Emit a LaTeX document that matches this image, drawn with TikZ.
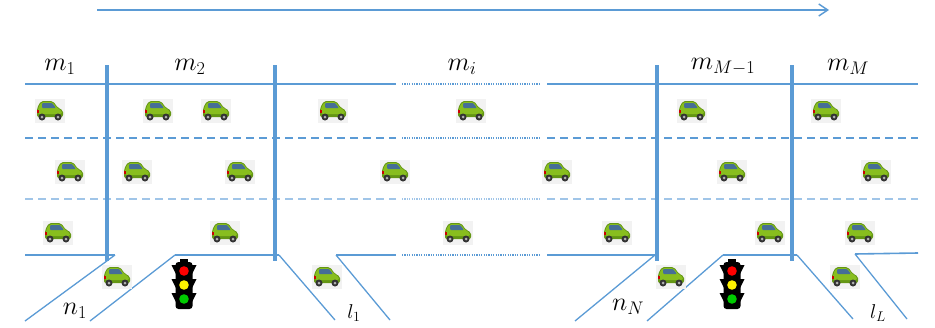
\documentclass[tikz,border=0pt]{standalone}
\usepackage{fix-cm}
\usetikzlibrary{arrows.meta}
\definecolor{road}{RGB}{91,155,213}
\definecolor{roadlight}{RGB}{160,197,232}
\definecolor{cargreen}{RGB}{136,190,30}
\definecolor{cardark}{RGB}{100,150,20}
\definecolor{carglass}{RGB}{70,110,150}
\definecolor{carbg}{RGB}{242,242,242}
\tikzset{
  roadline/.style={draw=road, line width=1.6pt},
  lanedash/.style={draw=road, line width=2pt, dash pattern=on 8pt off 5pt},
  lanedashlight/.style={draw=roadlight, line width=2pt, dash pattern=on 8pt off 5pt},
  gapdots/.style={draw=road, line width=1.6pt, dash pattern=on 1.2pt off 1.2pt},
  bar/.style={draw=road, line width=3.5pt},
  ramp/.style={draw=road, line width=1.3pt},
  biglabel/.style={font=\fontsize{26}{30}\selectfont, inner sep=0pt},
  smalllabel/.style={font=\fontsize{20}{24}\selectfont, inner sep=0pt},
  car/.pic={
    \fill[carbg] (-15,-12) rectangle (15,12);
    \fill[cardark, rounded corners=2] (-13,6) -- (-13,-3) -- (-9,-10) -- (3,-10) -- (8,-3) -- (13,-1) -- (13,6) -- cycle;
    \fill[cargreen, rounded corners=2] (-12,3) -- (-12,-3) -- (-8.5,-9) -- (2.5,-9) -- (7.5,-2.5) -- (12,-0.5) -- (12,3) -- cycle;
    \fill[carglass, rounded corners=1] (-8,-8) -- (2,-8) -- (6,-3) -- (-8,-3) -- cycle;
    \fill[red!80!black] (-13,-1) rectangle (-11.5,2);
    \fill[black!80] (-8,6) circle (3.5) (8,6) circle (3.5);
    \fill[gray!60] (-8,6) circle (1.5) (8,6) circle (1.5);
  },
  signal/.pic={
    \fill[black] (-4,-26) rectangle (4,-22);
    \foreach \yy in {-14,0,14}{
      \fill[black] (-8,\yy-6) -- (-12.5,\yy-6) -- (-8,\yy+3) -- cycle;
      \fill[black] (8,\yy-6) -- (12.5,\yy-6) -- (8,\yy+3) -- cycle;
    }
    \fill[black, rounded corners=3] (-8.5,-23) rectangle (8.5,24);
    \fill[red] (0,-14) circle (4.8);
    \fill[yellow] (0,0) circle (4.8);
    \fill[green!80!black] (0,14) circle (4.8);
  }
}
\begin{document}
\begin{tikzpicture}[x=1pt, y=-1pt]
\useasboundingbox (0,0) rectangle (935,327);

% direction of traffic
\coordinate (dirA) at (97,10);
\coordinate (dirB) at (829,10);
\draw[draw=road, line width=1.6pt, -{Straight Barb[length=9pt, width=12pt, line width=1.4pt]}] (dirA) -- (dirB);

% upper road edge
\coordinate (topL) at (25,84);
\coordinate (topLm) at (396,84);
\coordinate (topGa) at (402,84);
\coordinate (topGb) at (540,84);
\coordinate (topRm) at (547,84);
\coordinate (topR) at (918,84);
\draw[roadline] (topL) -- (topLm);
\draw[gapdots] (topGa) -- (topGb);
\draw[roadline] (topRm) -- (topR);

% lane separators
\coordinate (d1L) at (25,138);
\coordinate (d1Lm) at (396,138);
\coordinate (d1Ga) at (402,138);
\coordinate (d1Gb) at (540,138);
\coordinate (d1Rm) at (547,138);
\coordinate (d1R) at (918,138);
\draw[lanedash] (d1L) -- (d1Lm);
\draw[gapdots] (d1Ga) -- (d1Gb);
\draw[lanedash] (d1Rm) -- (d1R);

\coordinate (d2L) at (25,199);
\coordinate (d2Lm) at (396,199);
\coordinate (d2Ga) at (402,199);
\coordinate (d2Gb) at (540,199);
\coordinate (d2Rm) at (547,199);
\coordinate (d2R) at (918,199);
\draw[lanedashlight] (d2L) -- (d2Lm);
\draw[gapdots, draw=roadlight] (d2Ga) -- (d2Gb);
\draw[lanedashlight] (d2Rm) -- (d2R);

% lower road edge with on- and off-ramps
\coordinate (b0) at (25,255);
\coordinate (b1) at (115,255);
\coordinate (r1a) at (25,321);
\coordinate (b2) at (175,255);
\coordinate (r1b) at (90,321);
\coordinate (b3) at (279,255);
\coordinate (x1a) at (335,320);
\coordinate (b4) at (336,255);
\coordinate (x1b) at (390,320);
\coordinate (b5) at (396,255);
\coordinate (bGa) at (402,255);
\coordinate (bGb) at (540,255);
\coordinate (b6) at (547,255);
\coordinate (b7) at (655,255);
\coordinate (rNa) at (575,321);
\coordinate (b8) at (723,255);
\coordinate (rNb) at (647,321);
\coordinate (b9) at (797,255);
\coordinate (xLa) at (853,319);
\coordinate (b10) at (855,254);
\coordinate (xLb) at (907,319);
\coordinate (b11) at (918,253);

\draw[roadline] (b0) -- (b1);
\draw[ramp] (b1) -- (r1a);
\draw[ramp] (r1b) -- (b2);
\draw[roadline] (b2) -- (b3);
\draw[ramp] (b3) -- (x1a);
\draw[ramp] (x1b) -- (b4);
\draw[roadline] (b4) -- (b5);
\draw[gapdots] (bGa) -- (bGb);
\draw[roadline] (b6) -- (b7);
\draw[ramp] (b7) -- (rNa);
\draw[ramp] (rNb) -- (b8);
\draw[roadline] (b8) -- (b9);
\draw[ramp] (b9) -- (xLa);
\draw[ramp] (xLb) -- (b10);
\draw[roadline] (b10) -- (b11);

% section boundaries
\foreach \bx/\nm in {107/s1, 275/s2, 657/s3, 792/s4}{
  \coordinate (\nm top) at (\bx,65);
  \coordinate (\nm bot) at (\bx,261);
  \draw[bar] (\nm top) -- (\nm bot);
}

% section labels
\node[biglabel] (m1) at (60,67) {$m_1$};
\node[biglabel] (m2) at (190,67) {$m_2$};
\node[biglabel] (mi) at (462,67) {$m_i$};
\node[biglabel] (mM1) at (723,67) {$m_{M-1}$};
\node[biglabel] (mM) at (848,67) {$m_M$};
\node[biglabel] (n1) at (75,311) {$n_1$};
\node[biglabel] (nN) at (628,307) {$n_N$};
\node[smalllabel] (l1) at (354,313) {$l_1$};
\node[smalllabel] (lL) at (878,313) {$l_L$};

% vehicles
\foreach \cx/\cy in {
  50/111, 158/111, 216/111, 333/111, 471/111, 692/111, 826/111,
  70/172, 137/172, 240/172, 395/172, 557/172, 732/172, 876/172,
  58/233, 225/233, 458/233, 617/233, 770/233, 860/233,
  117/277, 327/277, 671/277, 845/277}
  \pic at (\cx,\cy) {car};

% traffic signals at the on-ramps
\pic at (184,285) {signal};
\pic at (732,285) {signal};
\end{tikzpicture}
\end{document}
